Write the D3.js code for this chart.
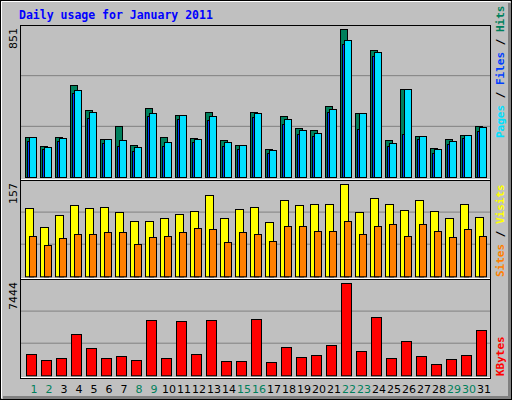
<!DOCTYPE html>
<html>
<head>
<meta charset="utf-8">
<script src="https://cdn.jsdelivr.net/npm/d3@7"></script>
<style>body{margin:0;background:#fff}</style>
</head>
<body>
<svg></svg>
<script>
var days = d3.range(1, 32);
var weekend = [1, 2, 8, 9, 15, 16, 22, 23, 29, 30];
var hits  = [232,180,232,531,387,220,295,186,399,232,358,226,376,215,186,376,163,353,284,272,410,851,370,732,215,508,238,169,220,243,295];
var pages = [232,174,226,502,376,220,215,174,370,203,358,220,353,203,186,370,157,335,272,255,393,790,370,721,197,508,238,163,209,243,289];
var files = [209,163,209,485,341,197,180,151,353,180,335,203,330,180,163,347,140,307,249,238,376,767,278,698,180,249,220,140,192,226,266];
var sites  = [116,84,104,121,116,119,109,95,95,99,106,111,138,99,114,119,93,130,121,123,124,157,109,133,124,113,130,111,100,124,102];
var visits = [68,53,65,72,72,75,75,55,67,68,75,82,80,58,75,73,61,86,85,78,78,94,72,85,89,68,90,78,67,80,68];
var kbytes = [1718,1227,1391,3354,2209,1391,1554,1227,4500,1391,4418,1718,4500,1145,1145,4581,1064,2291,1473,1636,2454,7444,1963,4745,1391,2782,1554,900,1309,1636,3682];

var svg = d3.select("svg").attr("width", 512).attr("height", 400)
  .style("font-family", "DejaVu Sans Mono, monospace");

// frame
svg.append("rect").attr("x", 0.5).attr("y", 0.5).attr("width", 511).attr("height", 399)
  .attr("fill", "#c0c0c0").attr("stroke", "#000");
svg.append("path").attr("d", "M1.5,398V1.5H510").attr("stroke", "#fff").attr("fill", "none");
svg.append("path").attr("d", "M509.5,3V397.5H3").attr("stroke", "#808080").attr("stroke-width", 3).attr("fill", "none");

svg.append("text").attr("x", 19).attr("y", 19).attr("fill", "#0000ff")
  .attr("font-weight", "bold").attr("font-size", 11.5).text("Daily usage for January 2011");

var x = d3.scaleBand().domain(days).range([20, 485]).paddingInner(0);

var panels = [
  { top: 25, bottom: 180, base: 177, max: 851, label: "851" },
  { top: 180, bottom: 279, base: 276.3, max: 157, label: "157" },
  { top: 279, bottom: 378, base: 375.3, max: 7444, label: "7444" }
];
var ys = panels.map(function(p) {
  var full = p.base - (p.top + 4.3);
  return d3.scaleLinear().domain([0, p.max]).range([p.base, p.base - full]);
});

panels.forEach(function(p, i) {
  var g = svg.append("g");
  var third = (p.base - p.top) / 3;
  [1, 2].forEach(function(k) {
    g.append("line").attr("x1", 21).attr("x2", 490).attr("y1", p.base - k * third).attr("y2", p.base - k * third)
      .attr("stroke", "#808080");
  });
  g.append("rect").attr("x", 20.5).attr("y", p.top + 0.5).attr("width", 470).attr("height", p.bottom - p.top)
    .attr("fill", "none").attr("stroke", "#000");
  g.append("line").attr("x1", 21).attr("x2", 490).attr("y1", p.bottom - 0.5).attr("y2", p.bottom - 0.5).attr("stroke", "#fff");
  g.append("text").attr("transform", "translate(17," + (p.top + 3) + ") rotate(-90)")
    .attr("text-anchor", "end").attr("font-size", 11).attr("font-family", "DejaVu Sans, sans-serif").text(p.label);
});

function bars(data, y, dx, w, color) {
  svg.append("g").selectAll("rect").data(data).enter().append("rect")
    .attr("x", function(d, i) { return x(days[i]) + dx + 0.5; })
    .attr("y", function(d) { return Math.round(y(d)) + 0.5; })
    .attr("width", w)
    .attr("height", function(d) { return y.range()[0] - Math.round(y(d)); })
    .attr("fill", color).attr("stroke", "#000");
}
bars(hits, ys[0], 5, 7, "#00805c");
bars(pages, ys[0], 9, 7, "#00e0ff");
bars(files, ys[0], 7, 2, "#0040ff");
bars(sites, ys[1], 5, 8, "#ffff00");
bars(visits, ys[1], 9, 7, "#ff8000");
bars(kbytes, ys[2], 6, 10, "#ff0000");

svg.append("g").selectAll("text").data(days).enter().append("text")
  .attr("x", function(d) { return x(d) + 14; })
  .attr("y", 393).attr("text-anchor", "middle")
  .attr("font-size", 11).attr("font-family", "DejaVu Sans, sans-serif")
  .attr("fill", function(d) { return weekend.indexOf(d) >= 0 ? "#00805c" : "#000"; })
  .text(function(d) { return d; });

function legend(yBottom, parts) {
  var t = svg.append("text").attr("transform", "translate(504," + yBottom + ") rotate(-90)")
    .attr("font-size", 11).attr("font-weight", "bold");
  parts.forEach(function(p) { t.append("tspan").attr("fill", p[1]).text(p[0]); });
}
legend(138, [["Pages", "#00e0ff"], [" / ", "#000"], ["Files", "#0040ff"], [" / ", "#000"], ["Hits", "#00805c"]]);
legend(277, [["Sites", "#ff8000"], [" / ", "#000"], ["Visits", "#ffff00"]]);
legend(376, [["KBytes", "#ff0000"]]);
</script>
</body>
</html>
